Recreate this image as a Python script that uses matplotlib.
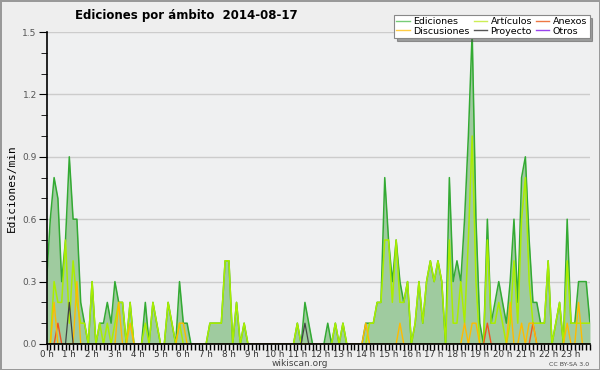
import numpy as np
import matplotlib
matplotlib.use('Agg')
import matplotlib.pyplot as plt
from matplotlib.ticker import MultipleLocator

# edits per minute, 10-minute bins from 00:00 to 23:50
ediciones = [0.3, 0.6, 0.8, 0.7, 0.3, 0.5, 0.9, 0.6, 0.6, 0.2, 0.1, 0.0,
             0.3, 0.0, 0.1, 0.1, 0.2, 0.1, 0.3, 0.2, 0.2, 0.0, 0.2, 0.0,
             0.0, 0.0, 0.2, 0.0, 0.2, 0.1, 0.0, 0.0, 0.2, 0.1, 0.0, 0.3,
             0.1, 0.1, 0.0, 0.0, 0.0, 0.0, 0.0, 0.1, 0.1, 0.1, 0.1, 0.4,
             0.4, 0.0, 0.2, 0.0, 0.1, 0.0, 0.0, 0.0, 0.0, 0.0, 0.0, 0.0,
             0.0, 0.0, 0.0, 0.0, 0.0, 0.0, 0.1, 0.0, 0.2, 0.1, 0.0, 0.0,
             0.0, 0.0, 0.1, 0.0, 0.1, 0.0, 0.1, 0.0, 0.0, 0.0, 0.0, 0.0,
             0.1, 0.1, 0.1, 0.2, 0.2, 0.8, 0.5, 0.3, 0.5, 0.3, 0.2, 0.3,
             0.0, 0.1, 0.3, 0.1, 0.3, 0.4, 0.3, 0.4, 0.3, 0.0, 0.8, 0.3,
             0.4, 0.3, 0.6, 1.0, 1.5, 0.6, 0.1, 0.0, 0.6, 0.1, 0.2, 0.3,
             0.2, 0.1, 0.3, 0.6, 0.2, 0.8, 0.9, 0.5, 0.2, 0.2, 0.1, 0.1,
             0.4, 0.0, 0.1, 0.2, 0.0, 0.6, 0.1, 0.1, 0.3, 0.3, 0.3, 0.1]
articulos = [0.0, 0.0, 0.3, 0.2, 0.2, 0.5, 0.1, 0.4, 0.2, 0.1, 0.1, 0.0,
             0.3, 0.0, 0.1, 0.0, 0.1, 0.0, 0.1, 0.2, 0.2, 0.0, 0.2, 0.0,
             0.0, 0.0, 0.1, 0.0, 0.2, 0.1, 0.0, 0.0, 0.2, 0.1, 0.0, 0.1,
             0.0, 0.0, 0.0, 0.0, 0.0, 0.0, 0.0, 0.1, 0.1, 0.1, 0.1, 0.4,
             0.4, 0.0, 0.2, 0.0, 0.1, 0.0, 0.0, 0.0, 0.0, 0.0, 0.0, 0.0,
             0.0, 0.0, 0.0, 0.0, 0.0, 0.0, 0.1, 0.0, 0.0, 0.0, 0.0, 0.0,
             0.0, 0.0, 0.0, 0.0, 0.1, 0.0, 0.1, 0.0, 0.0, 0.0, 0.0, 0.0,
             0.0, 0.1, 0.1, 0.2, 0.2, 0.5, 0.5, 0.2, 0.5, 0.2, 0.2, 0.3,
             0.0, 0.1, 0.3, 0.1, 0.3, 0.4, 0.3, 0.4, 0.3, 0.0, 0.5, 0.1,
             0.1, 0.3, 0.1, 0.5, 1.0, 0.3, 0.0, 0.0, 0.5, 0.1, 0.1, 0.2,
             0.1, 0.0, 0.1, 0.4, 0.1, 0.6, 0.8, 0.3, 0.1, 0.1, 0.1, 0.1,
             0.4, 0.0, 0.1, 0.2, 0.0, 0.4, 0.1, 0.1, 0.1, 0.1, 0.1, 0.1]
discusiones = {2: 0.2, 8: 0.3, 19: 0.2, 22: 0.1, 35: 0.1, 36: 0.1, 84: 0.1,
               93: 0.1, 110: 0.1, 112: 0.1, 113: 0.1, 122: 0.2, 125: 0.1,
               127: 0.1, 128: 0.1, 137: 0.1, 140: 0.2}
anexos = {3: 0.1, 116: 0.1, 128: 0.1}
proyecto = {6: 0.2, 68: 0.1}
otros = {}

hours = np.arange(144) / 6.0


def expand(d):
    s = np.zeros(144)
    for k, v in d.items():
        s[k] = v
    return s


fig = plt.figure(figsize=(6, 3.7), dpi=100, facecolor='#eeeeee',
                 edgecolor='#999999', linewidth=2)
ax = fig.add_axes([0.0775, 0.0703, 0.9058, 0.8432])
ax.set_facecolor('#eff0f1')

ax.fill_between(hours, ediciones, color='#9fcb9f', lw=0)
ax.plot(hours, ediciones, color='#33aa33', lw=1.1)
ax.plot(hours, articulos, color='#aaee00', lw=1.1)
ax.plot(hours, expand(anexos), color='#ee5522', lw=1.0)
ax.plot(hours, expand(discusiones), color='#ffbb00', lw=1.0)
ax.plot(hours, expand(proyecto), color='#444444', lw=0.9)

# legend entries (pastel swatches like the original)
names = ['Ediciones', 'Discusiones', 'Artículos', 'Proyecto', 'Anexos', 'Otros']
colors = ['#77cc77', '#ffcc44', '#ccee55', '#555555', '#ee7744', '#9944ee']
handles = [plt.Line2D([], [], color=c, lw=1) for c in colors]

ax.set_xlim(0, 143 / 6.0)
ax.set_ylim(0, 1.5)
for s in ['top', 'right']:
    ax.spines[s].set_visible(False)
ax.spines['left'].set_linewidth(1.2)
ax.spines['bottom'].set_linewidth(1.2)

ax.yaxis.set_major_locator(MultipleLocator(0.3))
ax.yaxis.set_minor_locator(MultipleLocator(0.1))
ax.set_yticklabels(['%.1f' % v for v in ax.get_yticks()])
ax.grid(axis='y', color='#cccccc', lw=1)
ax.set_axisbelow(True)
ax.set_xticks(range(24))
ax.set_xticklabels(['%d h' % h for h in range(24)])
ax.xaxis.set_minor_locator(MultipleLocator(1 / 6.0))
ax.tick_params(axis='x', which='both', length=4, width=1, pad=0,
               labelsize=6.3, labelcolor='#333333')
ax.tick_params(axis='y', which='major', length=6, labelsize=6.5,
               labelcolor='#555555', pad=1)
ax.tick_params(axis='y', which='minor', length=4)

ax.set_ylabel('Ediciones/min', family='DejaVu Sans Mono', fontsize=8)
fig.text(0.31, 0.95, 'Ediciones por ámbito  2014-08-17', ha='center',
         fontsize=8.5, fontweight='bold')
fig.text(0.5, 0.01, 'wikiscan.org', ha='center', fontsize=6.5, color='#444444')
fig.text(0.982, 0.012, 'CC BY-SA 3.0', ha='right', fontsize=4.5, color='#444444')

leg = ax.legend(handles, names, ncol=3, loc='upper right',
                bbox_to_anchor=(1.008, 1.07), fontsize=6.8, frameon=True,
                fancybox=False, shadow=True, handlelength=1.4,
                handletextpad=0.4, columnspacing=0.4, labelspacing=0.05,
                borderpad=0.25)
leg.get_frame().set_edgecolor('#888888')
leg.get_frame().set_linewidth(0.8)

fig.savefig('out.png', dpi=100, facecolor=fig.get_facecolor(),
            edgecolor=fig.get_edgecolor())
